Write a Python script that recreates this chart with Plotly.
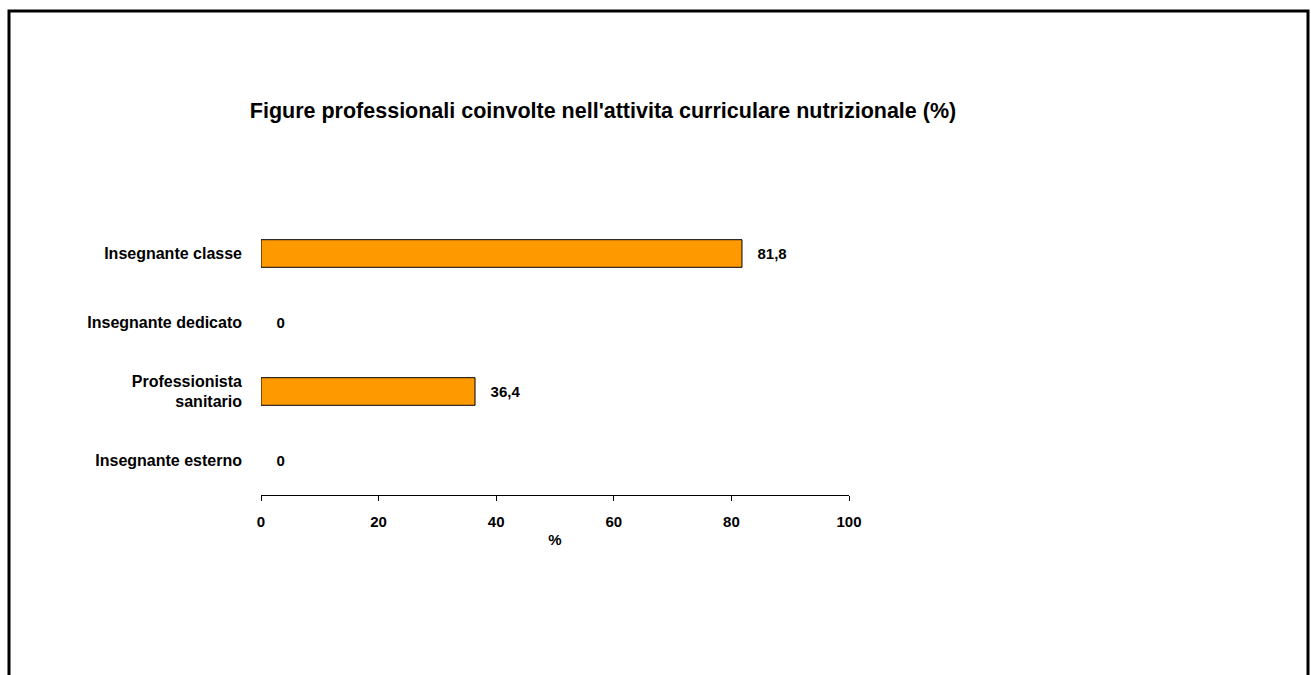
import plotly.graph_objects as go

# Data
categories = ["Insegnante classe", "Insegnante dedicato", "Professionista<br>sanitario", "Insegnante esterno"]
values = [81.8, 0, 36.4, 0]
x_ticks = [0, 20, 40, 60, 80, 100]

# bar labels use a decimal comma, padded away from the bar end
labels = ["\u00a0\u00a0\u00a0<b>%s</b>" % ("%g" % v).replace(".", ",") for v in values]
edge = [1 if v > 0 else 0 for v in values]

fig = go.Figure(go.Bar(
    y=categories,
    x=values,
    orientation="h",
    width=0.4,
    marker=dict(color="#FF9900", line=dict(color="black", width=edge)),
    text=labels,
    textposition="outside",
    textfont=dict(family="Liberation Sans, Arial", size=15, color="black"),
    cliponaxis=False,
    hoverinfo="skip",
))

# Plot area spans x 261..849 px, y 218.5..495 px
pw, ph = 588, 276.5
left, top = 261, 218.5
bottom = top + ph

def px_x(x):
    return (x - left) / pw

def px_y(y):
    return (bottom - y) / ph

# Outer frame around the whole chart (bottom edge falls outside the page)
fig.add_shape(type="rect", xref="paper", yref="paper",
              x0=px_x(9), x1=px_x(1308), y0=px_y(720), y1=px_y(10),
              line=dict(color="black", width=3), fillcolor="rgba(0,0,0,0)")

fig.update_layout(
    width=1311, height=675,
    margin=dict(l=left, r=1311 - left - pw, t=top, b=675 - bottom, pad=0),
    paper_bgcolor="white", plot_bgcolor="white",
    font=dict(family="Liberation Sans, Arial", size=15, color="black"),
    title=dict(
        text="<b>Figure professionali coinvolte nell'attivita curriculare nutrizionale (%)</b>",
        x=603 / 1311, xanchor="center", xref="container",
        y=1 - 110 / 675, yanchor="middle", yref="container",
        font=dict(size=21.5, color="black"),
    ),
    showlegend=False,
    bargap=0.6,
)

fig.update_xaxes(
    range=[0, 100], tickvals=x_ticks, ticktext=["<b>%d</b>" % t for t in x_ticks],
    showgrid=False, zeroline=False, showline=True, linecolor="black", linewidth=1,
    ticks="outside", ticklen=5, tickcolor="black", ticklabelstandoff=8,
    tickfont=dict(size=15), title=dict(text="<b>%</b>", font=dict(size=15), standoff=5),
)

fig.update_yaxes(
    autorange="reversed", showgrid=False, zeroline=False, showline=False,
    ticks="", ticklabelstandoff=18,
    tickvals=categories, ticktext=["<b>%s</b>" % c for c in categories],
    tickfont=dict(size=16),
)

fig.write_html("out.html", config={"displayModeBar": False},
               post_script="document.body.style.margin='0';")
